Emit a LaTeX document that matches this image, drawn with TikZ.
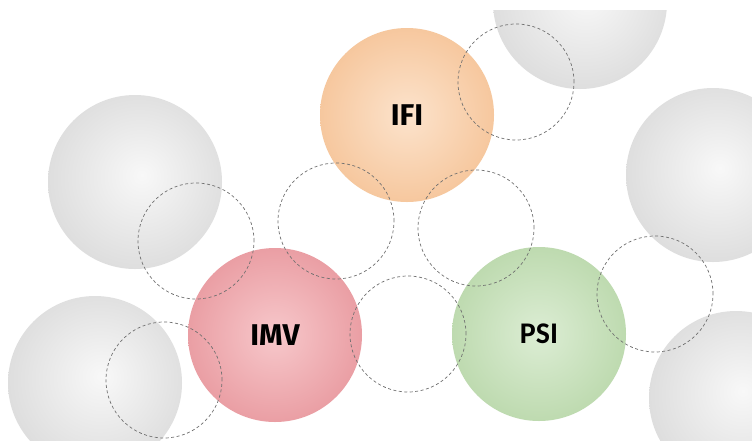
\documentclass[tikz,border=0pt]{standalone}
\usepackage{fontspec}
\setmainfont{Fira Sans}
\newfontfamily\psifont{Carlito}
\definecolor{orIn}{HTML}{FCE3CC}
\definecolor{orOut}{HTML}{F1AE74}
\definecolor{rdIn}{HTML}{F7C8CB}
\definecolor{rdOut}{HTML}{DE7880}
\definecolor{grIn}{HTML}{DCEDD4}
\definecolor{grOut}{HTML}{A2C98E}
\definecolor{gyIn}{HTML}{F8F8F8}
\definecolor{gyOut}{HTML}{C4C4C4}
\definecolor{dashc}{HTML}{707070}
\pgfdeclareradialshading{sorange}{\pgfpoint{0bp}{0bp}}{color(0bp)=(orIn); color(48bp)=(orOut); color(50bp)=(orOut)}
\pgfdeclareradialshading{sred}{\pgfpoint{0bp}{0bp}}{color(0bp)=(rdIn); color(48bp)=(rdOut); color(50bp)=(rdOut)}
\pgfdeclareradialshading{sgreen}{\pgfpoint{0bp}{0bp}}{color(0bp)=(grIn); color(48bp)=(grOut); color(50bp)=(grOut)}
\pgfdeclareradialshading{sgrey}{\pgfpoint{2bp}{2bp}}{color(0bp)=(gyIn); color(52bp)=(gyOut)}
\tikzset{
  ball/.style={circle, inner sep=0pt, minimum size=174pt, font=\fontsize{30}{30}\selectfont\bfseries},
  greyball/.style={ball, shading=sgrey},
  ring/.style={circle, draw=dashc, dashed, line width=0.7pt, dash pattern=on 3pt off 2.5pt, inner sep=0pt, minimum size=116pt},
}
\begin{document}
\begin{tikzpicture}[x=1pt,y=-1pt]
\useasboundingbox (0,0) rectangle (752,440);
\fill[white] (0,0) rectangle (752,440);
\begin{scope}
\clip (0,10) rectangle (752,440);
% grey balls
\node[greyball] (g1) at (580,2) {};
\node[greyball] (g2) at (135,182) {};
\node[greyball] (g3) at (713,175) {};
\node[greyball] (g4) at (95,383) {};
\node[greyball] (g5) at (736,398) {};
% coloured balls
\node[ball, shading=sorange] (ifi) at (407,115) {IFI};
\node[ball, shading=sred] (imv) at (275,335) {IMV};
\node[ball, shading=sgreen] (psi) at (539,334) {\psifont\bfseries PSI};
% dashed rings
\node[ring] (r1) at (516,82) {};
\node[ring] (r2) at (336,221) {};
\node[ring] (r3) at (476,228) {};
\node[ring] (r4) at (196,241) {};
\node[ring] (r5) at (408,334) {};
\node[ring] (r6) at (655,294) {};
\node[ring] (r7) at (164,380) {};
\end{scope}
\end{tikzpicture}
\end{document}
